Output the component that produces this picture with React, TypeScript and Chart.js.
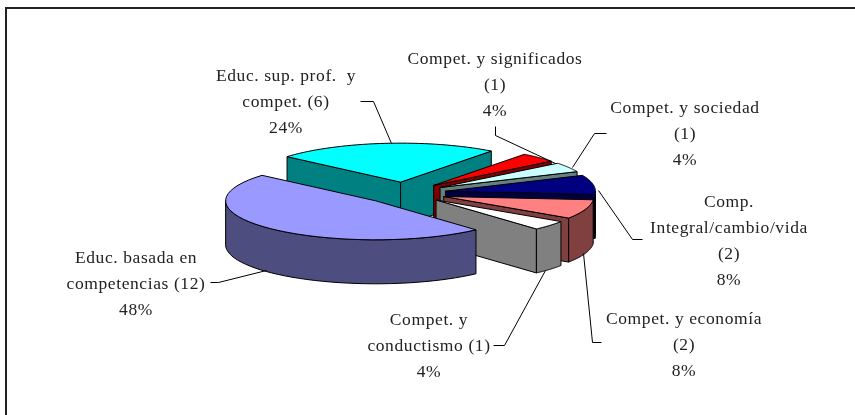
import { useEffect, useRef } from "react";
import { Chart, registerables } from "chart.js";

Chart.register(...registerables);

const categories = [
  "Educ. basada en competencias (12)",
  "Educ. sup. prof. y compet. (6)",
  "Compet. y significados (1)",
  "Compet. y sociedad (1)",
  "Comp. Integral/cambio/vida (2)",
  "Compet. y economía (2)",
  "Compet. y conductismo (1)",
];
const values = [12, 6, 1, 1, 2, 2, 1];
const topColors = ["#9999FF", "#00FFFF", "#FF0000", "#CCFFFF", "#000080", "#FF8080", "#FFFFFF"];
const wallColors = ["#4D4D80", "#008080", "#800000", "#668080", "#000040", "#804040", "#808080"];
const explode = [42, 42, 41, 41, 41, 41, 41];
const paintOrder = [1, 2, 3, 4, 5, 6, 0];

const labelLines = [
  ["Educ. basada en", "competencias (12)", "48%"],
  ["Educ. sup. prof.  y", "compet. (6)", "24%"],
  ["Compet. y significados", "(1)", "4%"],
  ["Compet. y sociedad", "(1)", "4%"],
  ["Comp.", "Integral/cambio/vida", "(2)", "8%"],
  ["Compet. y economía", "(2)", "8%"],
  ["Compet. y", "conductismo (1)", "4%"],
];
const labelCenters = [
  [136, 258], [286, 76], [495, 59], [685, 108], [729, 202], [684, 319], [429, 320],
];
const leaders = [
  [[210, 282], [218, 282], [266, 270]],
  [[360, 101], [373, 101], [391, 143]],
  [[495, 126], [495, 135], [555, 163]],
  [[606, 133], [594, 133], [572, 167]],
  [[642, 239], [632, 239], [598, 190]],
  [[601, 342], [592, 342], [583, 253]],
  [[493, 345], [504, 345], [545, 270]],
];

const CX = 405;
const CY = 193;
const TILT = 0.26;
const DEPTH = 44;
const RADIUS = 150;
const LINE_GAP = 26.2;

const pie3d = {
  id: "pie3d",
  beforeDatasetsDraw(chart: any) {
    const ctx = chart.ctx as CanvasRenderingContext2D;
    const arcs = chart.getDatasetMeta(0).data as any[];
    const geo = arcs.map((arc, i) => {
      const mid = (arc.startAngle + arc.endAngle) / 2;
      return {
        a: arc.startAngle,
        b: arc.endAngle,
        r: arc.outerRadius,
        x: CX + Math.cos(mid) * explode[i],
        y: CY + Math.sin(mid) * explode[i] * TILT,
      };
    });
    const pt = (g: any, t: number) => [g.x + Math.cos(t) * g.r, g.y + Math.sin(t) * g.r * TILT];

    ctx.save();
    ctx.lineWidth = 1;
    ctx.strokeStyle = "#000";
    ctx.lineJoin = "round";

    const face = (points: number[][], fill: string) => {
      ctx.beginPath();
      points.forEach((p, k) => (k ? ctx.lineTo(p[0], p[1]) : ctx.moveTo(p[0], p[1])));
      ctx.closePath();
      ctx.fillStyle = fill;
      ctx.fill();
      ctx.stroke();
    };

    paintOrder.forEach((i) => {
      const g = geo[i];
      const wall = wallColors[i];
      if (Math.cos(g.a) < 0) {
        const p = pt(g, g.a);
        face([[g.x, g.y], p, [p[0], p[1] + DEPTH], [g.x, g.y + DEPTH]], wall);
      }
      if (Math.cos(g.b) > 0) {
        const p = pt(g, g.b);
        face([[g.x, g.y], p, [p[0], p[1] + DEPTH], [g.x, g.y + DEPTH]], wall);
      }
      for (const turn of [0, Math.PI * 2]) {
        const from = Math.max(g.a, turn);
        const to = Math.min(g.b, turn + Math.PI);
        if (to <= from) continue;
        const up: number[][] = [];
        const steps = 40;
        for (let s = 0; s <= steps; s++) up.push(pt(g, from + ((to - from) * s) / steps));
        const down = up.slice().reverse().map((p) => [p[0], p[1] + DEPTH]);
        face([...up, ...down], wall);
      }
    });

    // top faces: the library's own arc elements, tilted and moved out
    arcs.forEach((arc, i) => {
      const g = geo[i];
      ctx.save();
      ctx.translate(g.x, g.y);
      ctx.scale(1, TILT);
      ctx.translate(-arc.x, -arc.y);
      arc.draw(ctx);
      ctx.restore();
      const steps = 40;
      const pts: number[][] = [[g.x, g.y]];
      for (let s = 0; s <= steps; s++) pts.push(pt(g, g.a + ((g.b - g.a) * s) / steps));
      ctx.beginPath();
      pts.forEach((p, k) => (k ? ctx.lineTo(p[0], p[1]) : ctx.moveTo(p[0], p[1])));
      ctx.closePath();
      ctx.stroke();
    });
    ctx.restore();
    return false;
  },
  afterDraw(chart: any) {
    const ctx = chart.ctx as CanvasRenderingContext2D;
    ctx.save();
    // frame
    ctx.strokeStyle = "#222";
    ctx.lineWidth = 2;
    ctx.beginPath();
    ctx.moveTo(6, 415);
    ctx.lineTo(6, 8);
    ctx.lineTo(855, 8);
    ctx.stroke();
    // leader lines
    ctx.strokeStyle = "#000";
    ctx.lineWidth = 1;
    leaders.forEach((line) => {
      ctx.beginPath();
      line.forEach((p, k) => (k ? ctx.lineTo(p[0] + 0.5, p[1] + 0.5) : ctx.moveTo(p[0] + 0.5, p[1] + 0.5)));
      ctx.stroke();
    });
    // labels
    ctx.fillStyle = "#222";
    ctx.font = '17.5px "Liberation Serif"';
    (ctx as any).letterSpacing = "0.6px";
    ctx.textAlign = "center";
    ctx.textBaseline = "middle";
    labelLines.forEach((lines, i) => {
      lines.forEach((text, k) => {
        ctx.fillText(text, labelCenters[i][0], labelCenters[i][1] + k * LINE_GAP);
      });
    });
    ctx.restore();
  },
};

export default function App() {
  const ref = useRef<HTMLCanvasElement>(null);
  useEffect(() => {
    document.body.style.margin = "0";
    const chart = new Chart(ref.current as HTMLCanvasElement, {
      type: "pie",
      data: {
        labels: categories,
        datasets: [{ data: values, backgroundColor: topColors, borderWidth: 0 }],
      },
      options: {
        animation: false,
        responsive: false,
        rotation: 138,
        radius: RADIUS,
        plugins: { legend: { display: false }, tooltip: { enabled: false } },
      },
      plugins: [pie3d],
    } as any);
    return () => chart.destroy();
  }, []);
  return (
    <div style={{ width: 855, height: 415, background: "#fff" }}>
      <canvas ref={ref} width={855} height={415} style={{ display: "block" }} />
    </div>
  );
}
